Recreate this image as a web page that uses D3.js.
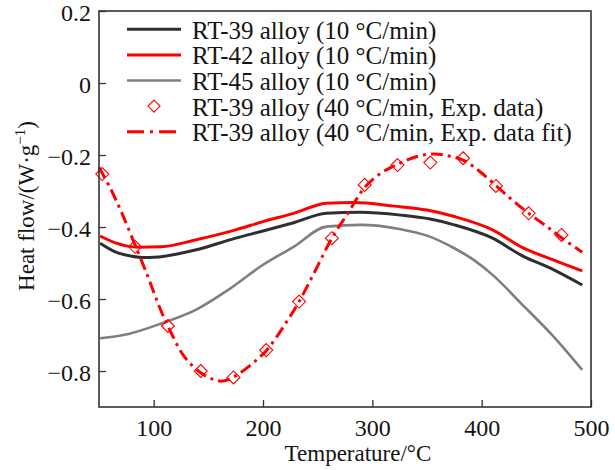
<!DOCTYPE html>
<html><head><meta charset="utf-8">
<script src="https://cdn.jsdelivr.net/npm/d3@7"></script>
<style>
html,body{margin:0;padding:0;background:#fff;}
svg{display:block;font-family:"Liberation Serif","Times New Roman",serif;}
</style></head>
<body><div id="chart"></div>
<script>
// ---- data ----
const rt39T = [51, 65, 80, 92, 110, 138, 175, 200, 228, 258, 289, 326, 353, 375, 410, 436, 466, 492];
const rt39V = [-0.445, -0.469, -0.481, -0.485, -0.481, -0.464, -0.431, -0.411, -0.388, -0.362, -0.359, -0.367, -0.378, -0.394, -0.431, -0.478, -0.519, -0.561];
const rt42T = [51, 65, 86, 107, 138, 175, 200, 228, 258, 283, 320, 350, 375, 410, 436, 466, 492];
const rt42V = [-0.425, -0.444, -0.456, -0.455, -0.436, -0.408, -0.385, -0.362, -0.334, -0.332, -0.342, -0.353, -0.371, -0.408, -0.455, -0.492, -0.522];
const rt45T = [51, 77, 107, 138, 168, 199, 228, 258, 289, 326, 350, 375, 393, 410, 436, 466, 492];
const rt45V = [-0.709, -0.697, -0.668, -0.631, -0.575, -0.507, -0.455, -0.399, -0.394, -0.406, -0.424, -0.459, -0.492, -0.533, -0.612, -0.705, -0.797];
const expT = [53, 83, 113, 143, 173, 203, 233, 263, 293, 323, 353, 383, 413, 443, 473];
const expV = [-0.253, -0.455, -0.675, -0.800, -0.818, -0.742, -0.607, -0.431, -0.283, -0.228, -0.221, -0.209, -0.286, -0.362, -0.422];
const fitT = [50, 60, 70, 83, 95, 105, 113, 128, 143, 155, 163, 173, 190, 204, 218, 233, 248, 263, 278, 293, 308, 323, 340, 356, 370, 383, 398, 413, 428, 443, 458, 473, 492];
const fitV = [-0.235, -0.29, -0.355, -0.45, -0.54, -0.62, -0.675, -0.76, -0.805, -0.824, -0.828, -0.817, -0.78, -0.74, -0.68, -0.607, -0.52, -0.431, -0.36, -0.29, -0.25, -0.226, -0.205, -0.197, -0.203, -0.214, -0.245, -0.285, -0.325, -0.362, -0.395, -0.43, -0.47];
const xTicks = [100, 200, 300, 400, 500];
const yTicks = [0.2, 0, -0.2, -0.4, -0.6, -0.8];
const yTickLabels = ["0.2", "0", "\u22120.2", "\u22120.4", "\u22120.6", "\u22120.8"];
const legendLabels = [
  "RT-39 alloy (10 \u00B0C/min)",
  "RT-42 alloy (10 \u00B0C/min)",
  "RT-45 alloy (10 \u00B0C/min)",
  "RT-39 alloy (40 \u00B0C/min, Exp. data)",
  "RT-39 alloy (40 \u00B0C/min, Exp. data fit)"
];

// ---- layout ----
const W = 615, H = 470;
const m = {left: 99, top: 11, right: 24, bottom: 63};
const pw = W - m.left - m.right, ph = H - m.top - m.bottom;
const svg = d3.select("#chart").append("svg").attr("width", W).attr("height", H);
const g = svg.append("g").attr("transform", `translate(${m.left},${m.top})`);

const x = d3.scaleLinear().domain([50, 500]).range([0, pw]);
const y = d3.scaleLinear().domain([-0.9, 0.2]).range([ph, 0]);

const FS_TICK = 24, FS_LEG = 25, FS_TITLE = 23;
const ink = "#141414";

// axes
const xAxis = g.append("g").attr("transform", `translate(0,${ph})`)
  .call(d3.axisBottom(x).tickValues(xTicks).tickSizeInner(-7).tickSizeOuter(0).tickPadding(12));
const yAxis = g.append("g")
  .call(d3.axisLeft(y).tickValues(yTicks).tickFormat((d, i) => yTickLabels[i]).tickSizeInner(-7).tickSizeOuter(0).tickPadding(8));
[xAxis, yAxis].forEach(a => {
  a.select(".domain").remove();
  a.selectAll(".tick line").attr("stroke", "#333").attr("stroke-width", 1.3);
  a.selectAll(".tick text").attr("font-size", FS_TICK).attr("fill", ink)
    .attr("font-family", "'Liberation Serif','Times New Roman',serif");
});
xAxis.selectAll(".tick text").attr("dy", "0.71em");
yAxis.selectAll(".tick text").attr("dy", "0.4em");

// lines
const lineGen = d3.line().x(d => x(d[0])).y(d => y(d[1])).curve(d3.curveMonotoneX);
const zip = (a, b) => a.map((v, i) => [v, b[i]]);
const plot = g.append("g");
plot.append("path").datum(zip(rt45T, rt45V)).attr("d", lineGen)
  .attr("fill", "none").attr("stroke", "#7f7f7f").attr("stroke-width", 2.6);
plot.append("path").datum(zip(rt39T, rt39V)).attr("d", lineGen)
  .attr("fill", "none").attr("stroke", "#2f2f2f").attr("stroke-width", 3);
plot.append("path").datum(zip(rt42T, rt42V)).attr("d", lineGen)
  .attr("fill", "none").attr("stroke", "#ff0000").attr("stroke-width", 3);
const fitGen = d3.line().x(d => x(d[0])).y(d => y(d[1])).curve(d3.curveCatmullRom);
plot.append("path").datum(zip(fitT, fitV)).attr("d", fitGen)
  .attr("fill", "none").attr("stroke", "#ff0000").attr("stroke-width", 3)
  .attr("stroke-dasharray", "12,5,3,5");
const diamond = (cx, cy, r) => `M${cx},${cy - r}L${cx + r},${cy}L${cx},${cy + r}L${cx - r},${cy}Z`;
plot.selectAll(".mk").data(zip(expT, expV)).enter().append("path")
  .attr("d", d => diamond(x(d[0]), y(d[1]), 6.5))
  .attr("fill", "none").attr("stroke", "#ff0000").attr("stroke-width", 1.1);

// frame
g.append("rect").attr("x", 0).attr("y", 0).attr("width", pw).attr("height", ph)
  .attr("fill", "none").attr("stroke", "#333").attr("stroke-width", 1.6);

// legend
const lg = svg.append("g");
const ly0 = 29.3, ldy = 25.6, lx1 = 127, lx2 = 181, ltx = 192;
const styles = [
  {stroke: "#2f2f2f", w: 3, dash: null},
  {stroke: "#ff0000", w: 3, dash: null},
  {stroke: "#7f7f7f", w: 2.6, dash: null},
  {marker: true},
  {stroke: "#ff0000", w: 3, dash: "17,6,3,6"}
];
legendLabels.forEach((t, i) => {
  const ly = ly0 + i * ldy;
  const s = styles[i];
  if (s.marker) {
    lg.append("path").attr("d", diamond((lx1 + lx2) / 2, ly, 6))
      .attr("fill", "none").attr("stroke", "#ff0000").attr("stroke-width", 1.1);
  } else {
    const l = lg.append("line").attr("x1", lx1).attr("x2", lx2).attr("y1", ly).attr("y2", ly)
      .attr("stroke", s.stroke).attr("stroke-width", s.w);
    if (s.dash) l.attr("stroke-dasharray", s.dash);
  }
  lg.append("text").attr("x", ltx).attr("y", ly + 9.5).attr("font-size", FS_LEG).attr("fill", ink).text(t);
});

// axis titles
svg.append("text").attr("x", 358).attr("y", 461).attr("text-anchor", "middle")
  .attr("font-size", FS_TITLE).attr("fill", ink).text("Temperature/\u00B0C");
const yt = svg.append("text").attr("transform", `translate(34,${m.top + ph / 2 - 3}) rotate(-90)`)
  .attr("text-anchor", "middle").attr("font-size", FS_TITLE).attr("fill", ink);
yt.append("tspan").text("Heat flow/(W\u00B7g");
yt.append("tspan").attr("font-size", 15).attr("dy", -9).text("\u22121");
yt.append("tspan").attr("dy", 9).text(")");
</script>
</body></html>
